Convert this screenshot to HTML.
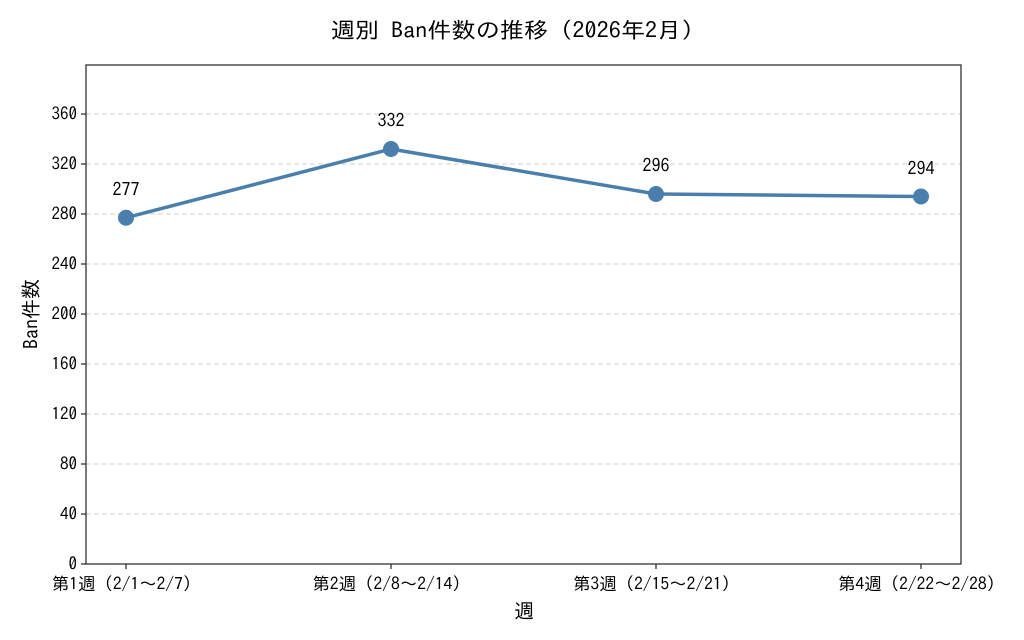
<!DOCTYPE html>
<html><head><meta charset="utf-8"><style>
html,body{margin:0;padding:0;background:#fff;}
svg{display:block;font-family:"IPAGothic","Noto Sans CJK JP",sans-serif;}
</style></head><body>
<svg width="1024" height="640" viewBox="0 0 1024 640" xmlns="http://www.w3.org/2000/svg">
<rect width="1024" height="640" fill="#fff"/>
<text x="518" y="38" font-size="22" text-anchor="middle" fill="#000" textLength="375" lengthAdjust="spacingAndGlyphs">週別 Ban件数の推移（2026年2月）</text>
<g stroke="#d0d0d0" stroke-width="1" stroke-dasharray="5,3">
<line x1="86" x2="961" y1="514" y2="514"/>
<line x1="86" x2="961" y1="464" y2="464"/>
<line x1="86" x2="961" y1="414" y2="414"/>
<line x1="86" x2="961" y1="364" y2="364"/>
<line x1="86" x2="961" y1="314" y2="314"/>
<line x1="86" x2="961" y1="264" y2="264"/>
<line x1="86" x2="961" y1="214" y2="214"/>
<line x1="86" x2="961" y1="164" y2="164"/>
<line x1="86" x2="961" y1="114" y2="114"/>
</g>
<rect x="86" y="65" width="875" height="499" fill="none" stroke="#222" stroke-width="1.2"/>
<g stroke="#222" stroke-width="1.2">
<line x1="81" x2="86" y1="564" y2="564"/><line x1="81" x2="86" y1="514" y2="514"/>
<line x1="81" x2="86" y1="464" y2="464"/><line x1="81" x2="86" y1="414" y2="414"/>
<line x1="81" x2="86" y1="364" y2="364"/><line x1="81" x2="86" y1="314" y2="314"/>
<line x1="81" x2="86" y1="264" y2="264"/><line x1="81" x2="86" y1="214" y2="214"/>
<line x1="81" x2="86" y1="164" y2="164"/><line x1="81" x2="86" y1="114" y2="114"/>
<line x1="126" x2="126" y1="564" y2="569"/><line x1="391" x2="391" y1="564" y2="569"/>
<line x1="656" x2="656" y1="564" y2="569"/><line x1="921" x2="921" y1="564" y2="569"/>
</g>
<g font-size="17" text-anchor="end" fill="#000">
<text x="77" y="570">0</text><text x="77" y="520">40</text><text x="77" y="470">80</text>
<text x="77" y="420">120</text><text x="77" y="370">160</text><text x="77" y="320">200</text>
<text x="77" y="270">240</text><text x="77" y="220">280</text><text x="77" y="170">320</text>
<text x="77" y="120">360</text>
</g>
<g font-size="17.5" text-anchor="middle" fill="#000">
<text x="126" y="590">第1週（2/1〜2/7）</text>
<text x="391" y="590">第2週（2/8〜2/14）</text>
<text x="656" y="590">第3週（2/15〜2/21）</text>
<text x="921" y="590">第4週（2/22〜2/28）</text>
</g>
<text x="524" y="618" font-size="20" text-anchor="middle">週</text>
<text transform="translate(38,314) rotate(-90)" font-size="20" text-anchor="middle">Ban件数</text>
<polyline points="126,217.75 391,149 656,194 921,196.5" fill="none" stroke="#4a7fad" stroke-width="3.5" stroke-linejoin="round"/>
<g fill="#4a7fad">
<circle cx="126" cy="217.75" r="8"/><circle cx="391" cy="149" r="8"/>
<circle cx="656" cy="194" r="8"/><circle cx="921" cy="196.5" r="8"/>
</g>
<g font-size="18" text-anchor="middle" fill="#000">
<text x="126" y="196">277</text><text x="391" y="127">332</text>
<text x="656" y="172">296</text><text x="921" y="175">294</text>
</g>
</svg>
</body></html>
